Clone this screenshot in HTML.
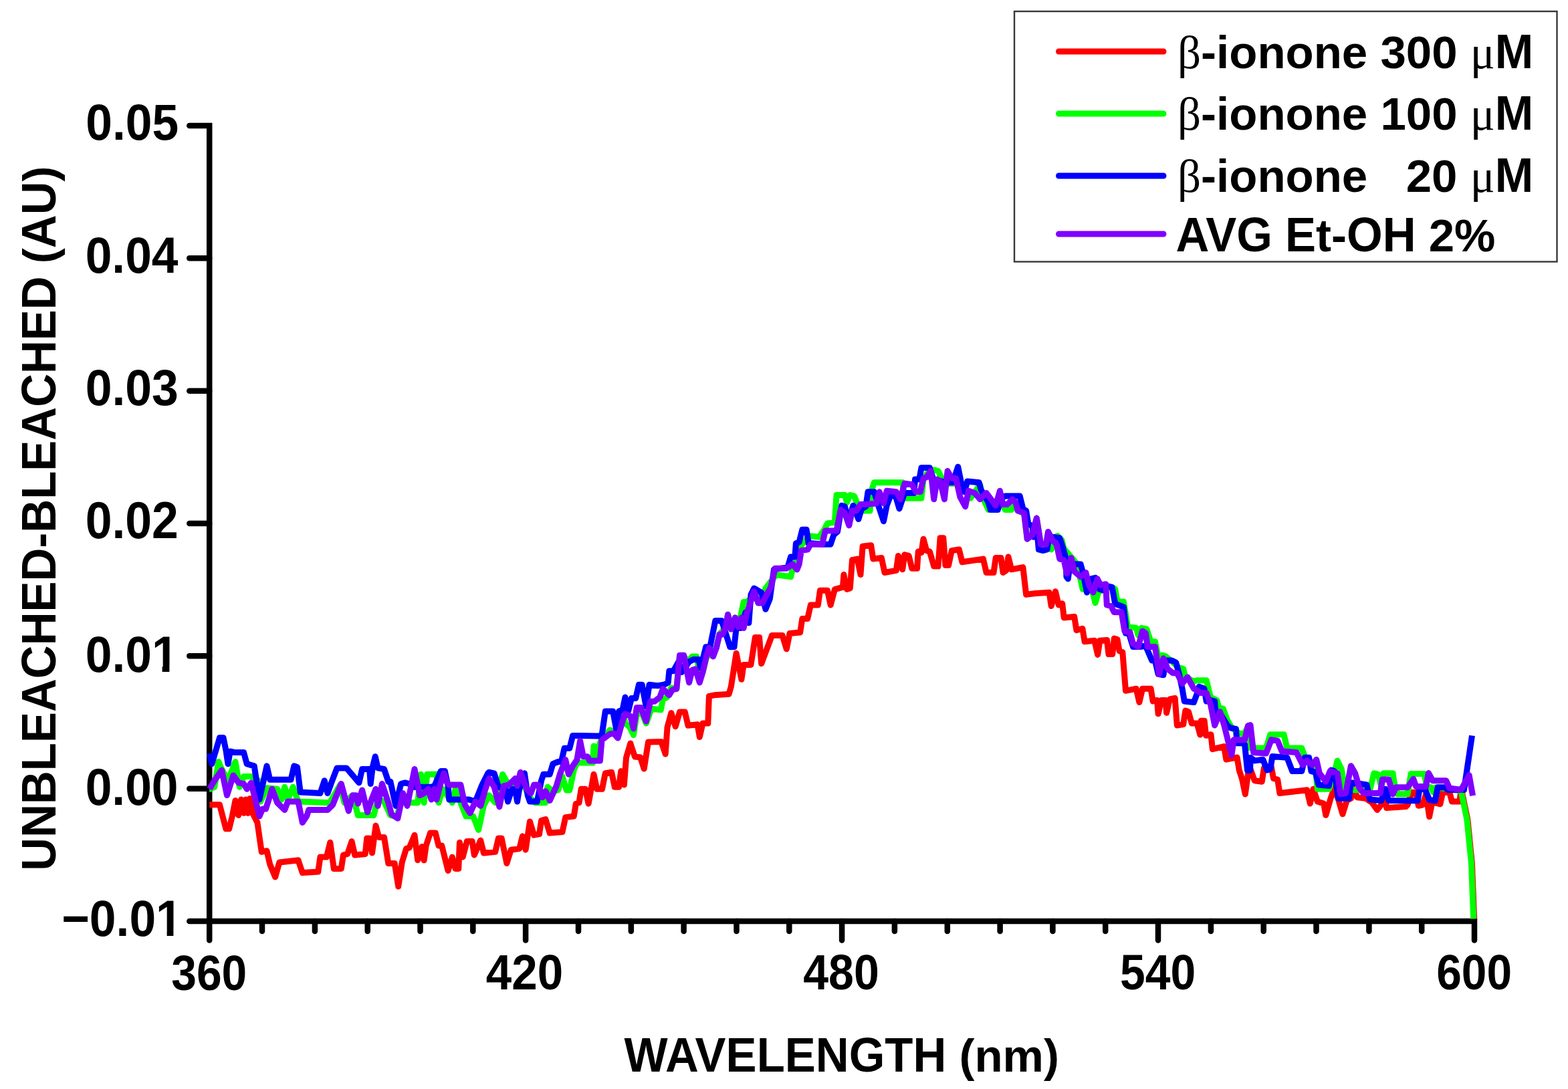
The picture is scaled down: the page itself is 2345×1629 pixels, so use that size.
<!DOCTYPE html>
<html><head><meta charset="utf-8"><title>Spectrum</title>
<style>html,body{margin:0;padding:0;background:#fff;}svg{display:block;}</style>
</head><body>
<svg width="2345" height="1629" viewBox="0 0 2345 1629">
<rect width="2345" height="1629" fill="#ffffff"/>
<g stroke="#000" stroke-width="8.5" fill="none" stroke-linecap="round" stroke-linejoin="miter">
<path d="M283.25,188.0 H313.2 V1406.5" />
<path d="M283.25,1378.0 H2205.0 V1406.5" />
<path d="M283.25,386.3 H313.2" />
<path d="M283.25,584.7 H313.2" />
<path d="M283.25,783.0 H313.2" />
<path d="M283.25,981.3 H313.2" />
<path d="M283.25,1179.7 H313.2" />
<path d="M392.0,1378.0 V1393" />
<path d="M470.9,1378.0 V1393" />
<path d="M549.7,1378.0 V1393" />
<path d="M628.5,1378.0 V1393" />
<path d="M707.3,1378.0 V1393" />
<path d="M786.1,1378.0 V1406.5" />
<path d="M865.0,1378.0 V1393" />
<path d="M943.8,1378.0 V1393" />
<path d="M1022.6,1378.0 V1393" />
<path d="M1101.5,1378.0 V1393" />
<path d="M1180.3,1378.0 V1393" />
<path d="M1259.1,1378.0 V1406.5" />
<path d="M1337.9,1378.0 V1393" />
<path d="M1416.8,1378.0 V1393" />
<path d="M1495.6,1378.0 V1393" />
<path d="M1574.4,1378.0 V1393" />
<path d="M1653.2,1378.0 V1393" />
<path d="M1732.0,1378.0 V1406.5" />
<path d="M1810.9,1378.0 V1393" />
<path d="M1889.7,1378.0 V1393" />
<path d="M1968.5,1378.0 V1393" />
<path d="M2047.4,1378.0 V1393" />
<path d="M2126.2,1378.0 V1393" />
</g>
<g fill="none" stroke-width="9" stroke-linejoin="round" stroke-linecap="butt">
<polyline stroke="#ff0000" points="313.2,1203.8 313.6,1203.8 328.5,1203.8 337.9,1239.8 342.6,1239.8 347.3,1221.0 352.0,1197.5 356.7,1219.5 360.6,1196.0 364.5,1216.3 367.7,1196.0 370.8,1216.3 373.9,1194.4 378.6,1217.9 384.9,1230.4 391.2,1274.3 399.0,1272.7 403.7,1293.1 411.6,1311.9 417.8,1290.0 446.0,1286.8 452.3,1305.6 475.8,1304.1 478.9,1282.1 488.3,1282.1 493.8,1260.2 499.3,1299.4 510.3,1299.4 513.4,1279.0 519.7,1277.4 526.0,1258.6 530.7,1279.0 546.3,1277.4 548.7,1253.9 552.6,1253.9 556.5,1275.9 562.0,1235.1 566.7,1252.4 574.5,1252.4 580.8,1291.5 590.2,1291.5 595.7,1326.0 601.2,1290.0 607.5,1269.6 612.2,1268.0 620.0,1249.2 624.7,1286.8 631.0,1266.5 634.1,1286.8 637.2,1264.9 643.5,1246.1 651.3,1246.1 656.0,1264.9 660.7,1264.9 665.4,1283.7 670.1,1302.5 676.4,1282.1 681.1,1299.4 685.8,1299.4 687.4,1260.2 692.1,1282.1 698.3,1258.6 706.2,1258.6 709.3,1279.0 718.7,1257.1 723.4,1275.9 740.7,1274.3 745.4,1253.9 750.1,1253.9 757.9,1291.5 764.2,1271.2 776.7,1269.6 781.4,1250.8 786.1,1271.2 792.4,1228.9 798.6,1249.2 806.5,1247.7 809.6,1227.3 815.9,1225.7 822.2,1246.1 841.0,1244.5 845.7,1222.6 858.2,1221.0 861.3,1202.2 866.0,1200.7 869.2,1180.3 875.4,1180.3 880.1,1202.2 888.0,1158.3 892.7,1180.3 900.5,1180.3 905.2,1156.8 914.6,1155.2 919.3,1177.2 925.6,1177.2 928.7,1153.6 933.4,1174.0 936.5,1133.3 942.8,1111.9 946.0,1122.0 949.5,1132.0 957.6,1132.7 963.2,1150.0 969.5,1110.0 988.9,1109.5 995.2,1128.0 998.0,1088.0 1003.9,1066.5 1010.2,1086.8 1016.5,1064.9 1024.3,1064.9 1029.0,1085.3 1043.1,1083.7 1046.3,1102.5 1051.0,1082.1 1058.8,1082.1 1060.4,1041.4 1068.2,1039.8 1090.1,1038.3 1093.3,1027.3 1101.1,977.2 1108.9,1016.3 1112.1,994.4 1123.0,994.4 1129.3,953.6 1135.6,953.6 1138.7,992.8 1154.4,950.6 1170.1,950.6 1176.3,970.9 1181.0,947.4 1196.7,945.9 1199.8,925.5 1207.7,925.5 1212.4,905.1 1223.3,905.1 1226.5,883.2 1237.5,883.2 1242.2,905.1 1248.4,881.6 1260.4,878.4 1261.9,859.6 1266.6,881.5 1271.3,880.0 1274.5,837.7 1282.3,836.1 1287.0,859.6 1290.1,817.3 1302.7,815.7 1305.8,836.1 1318.3,834.5 1323.0,856.5 1340.3,853.3 1343.4,831.4 1349.7,851.8 1352.8,829.8 1359.1,831.4 1363.8,850.2 1371.6,850.2 1373.2,825.1 1377.9,826.7 1381.0,806.3 1385.7,823.6 1390.4,825.1 1396.7,847.1 1403.0,847.1 1406.1,804.8 1410.8,804.8 1413.9,845.5 1418.6,845.5 1423.3,823.6 1434.3,822.0 1439.0,840.8 1470.4,836.1 1475.1,856.5 1486.0,856.5 1489.2,834.5 1497.0,834.5 1500.1,856.5 1504.8,853.3 1508.0,833.0 1512.7,851.8 1529.9,848.6 1534.6,889.4 1547.2,887.8 1569.1,886.2 1572.2,906.6 1578.5,884.7 1583.2,905.0 1588.7,902.8 1591.2,924.0 1606.7,922.4 1609.9,942.7 1618.9,940.3 1622.1,959.8 1636.8,958.2 1641.7,979.4 1644.9,958.2 1655.5,957.4 1658.0,978.6 1663.7,978.6 1666.3,955.0 1671.0,956.6 1674.1,973.8 1678.8,975.4 1683.5,1033.3 1699.2,1030.2 1703.9,1050.6 1708.6,1030.2 1721.1,1030.2 1724.2,1049.0 1730.5,1047.4 1732.1,1067.8 1736.8,1047.4 1743.0,1047.4 1744.6,1066.2 1749.3,1045.9 1757.2,1044.3 1760.3,1085.0 1769.7,1083.5 1772.8,1063.1 1777.5,1064.7 1782.2,1081.9 1790.1,1081.9 1794.8,1099.1 1796.3,1078.3 1801.2,1078.3 1803.6,1100.3 1811.0,1098.7 1813.4,1120.7 1830.5,1116.6 1833.8,1136.1 1850.1,1132.9 1853.3,1152.4 1857.5,1165.0 1862.3,1188.0 1867.0,1154.0 1870.0,1150.4 1876.3,1167.7 1887.2,1169.2 1890.4,1148.9 1901.3,1147.3 1904.5,1164.5 1910.7,1166.1 1913.9,1186.5 1954.6,1181.8 1959.3,1202.1 1964.0,1180.2 1970.3,1199.0 1979.7,1202.1 1982.8,1219.4 1989.1,1197.4 1995.4,1178.6 2001.6,1195.9 2007.9,1217.8 2014.2,1197.4 2020.4,1194.3 2025.1,1180.2 2029.8,1192.7 2042.4,1194.3 2051.8,1200.6 2059.6,1211.5 2065.9,1203.7 2070.6,1184.9 2073.7,1208.4 2102.6,1206.5 2105.1,1204.0 2111.3,1185.2 2117.6,1185.2 2121.4,1205.3 2127.6,1204.0 2132.6,1187.7 2137.6,1221.6 2141.4,1202.8 2145.2,1200.3 2153.9,1202.8 2157.7,1185.2 2167.7,1185.2 2171.5,1199.0 2182.8,1199.0 2185.0,1182.7 2186.1,1183.7 2194.8,1225.3 2201.4,1291.1 2204.7,1374.4"/>
<polyline stroke="#00ff00" points="313.2,1180.3 314.4,1180.3 320.7,1177.2 326.9,1139.5 331.6,1150.5 341.0,1167.7 352.0,1139.5 358.3,1177.2 364.5,1161.5 375.5,1161.5 386.5,1167.7 389.6,1199.1 399.0,1178.7 414.7,1180.3 421.0,1196.0 425.7,1177.2 430.4,1196.0 438.2,1177.2 446.0,1199.1 493.0,1200.7 508.7,1174.0 515.0,1200.7 527.5,1189.7 535.4,1219.5 558.9,1219.5 565.1,1196.0 574.5,1199.1 583.9,1219.5 593.3,1221.0 602.7,1192.8 615.3,1200.7 624.7,1200.7 629.4,1158.3 634.1,1200.7 638.8,1158.3 652.9,1158.3 656.0,1200.7 662.3,1180.3 676.4,1200.7 681.1,1180.3 688.9,1200.7 696.8,1221.0 707.7,1221.0 715.6,1241.4 723.4,1205.4 731.3,1189.7 740.7,1200.7 751.6,1158.3 759.5,1172.5 765.7,1174.0 776.7,1174.0 784.5,1177.2 792.4,1192.8 800.2,1200.7 815.9,1200.7 819.0,1177.2 826.9,1183.4 834.7,1181.9 841.0,1161.5 847.2,1181.9 851.9,1181.9 858.2,1152.1 862.9,1141.1 886.4,1141.1 888.0,1116.0 891.1,1130.1 900.0,1104.0 906.0,1100.0 912.0,1092.0 918.0,1094.0 925.0,1100.0 932.0,1068.0 935.0,1082.1 941.3,1086.8 947.5,1099.4 952.2,1068.0 960.1,1066.5 966.3,1082.1 974.2,1060.2 988.3,1061.8 991.4,1046.1 997.7,1043.0 1003.9,1028.9 1011.8,1030.4 1016.5,981.9 1022.7,981.9 1029.0,989.7 1035.3,981.9 1041.6,981.9 1046.3,1005.4 1051.0,1005.4 1057.2,980.3 1065.1,980.3 1071.3,969.3 1076.0,948.9 1085.4,938.0 1088.6,919.2 1093.3,941.1 1099.5,923.9 1104.2,938.0 1112.1,900.4 1116.8,900.4 1123.0,895.7 1127.7,884.7 1134.0,901.9 1140.3,895.7 1145.0,880.0 1160.7,859.7 1182.6,862.8 1185.7,850.3 1192.0,836.2 1196.7,817.4 1210.8,801.7 1224.9,803.3 1232.7,792.3 1237.5,782.9 1248.4,781.3 1251.0,740.5 1263.5,740.5 1266.6,751.5 1271.3,740.5 1277.6,742.1 1283.9,757.7 1288.6,764.0 1301.1,764.0 1302.7,735.8 1307.4,721.7 1349.7,721.7 1352.8,745.2 1377.9,745.2 1381.0,717.0 1385.7,709.2 1396.7,702.9 1403.0,704.5 1409.2,717.0 1418.6,723.3 1429.6,723.3 1437.4,723.3 1451.5,745.2 1465.7,724.8 1468.8,742.1 1478.2,762.5 1489.2,760.9 1497.0,751.5 1503.3,762.5 1512.7,762.5 1518.9,751.5 1522.1,764.0 1531.5,767.2 1536.2,806.3 1544.0,800.1 1550.3,775.0 1556.6,814.2 1564.4,814.2 1572.2,822.0 1575.4,804.8 1581.6,801.6 1587.9,807.9 1591.0,820.4 1609.8,842.4 1616.1,867.4 1619.2,881.5 1630.2,870.6 1638.0,901.9 1642.7,886.2 1653.7,878.4 1663.1,878.4 1667.8,881.3 1671.0,900.1 1680.4,900.1 1686.6,937.7 1699.2,939.3 1702.3,950.3 1707.0,939.3 1714.8,940.9 1721.1,959.7 1727.4,959.7 1732.1,981.6 1738.3,980.1 1743.0,981.6 1750.9,987.9 1763.4,998.9 1769.7,1000.4 1772.8,1013.0 1779.1,1016.1 1785.4,1019.2 1790.1,1017.7 1804.2,1017.7 1810.4,1042.7 1819.8,1047.4 1823.0,1058.4 1829.2,1060.0 1835.5,1077.2 1841.9,1088.1 1853.3,1097.0 1860.7,1097.8 1865.5,1088.9 1869.6,1085.6 1870.0,1119.1 1876.3,1119.1 1893.5,1119.1 1899.8,1098.7 1920.1,1098.7 1924.8,1119.1 1946.8,1119.1 1951.5,1131.6 1967.2,1148.9 1970.3,1180.2 1987.5,1180.2 1995.4,1156.7 2000.1,1137.9 2006.3,1150.4 2011.0,1180.2 2026.7,1181.8 2036.1,1181.8 2048.6,1181.8 2054.9,1156.7 2061.2,1158.3 2065.9,1177.1 2069.0,1156.7 2083.1,1156.7 2085.0,1170.2 2090.0,1187.7 2105.1,1187.7 2110.1,1157.6 2130.1,1157.6 2133.9,1177.7 2140.2,1177.7 2143.9,1185.2 2147.7,1177.7 2167.7,1180.2 2184.0,1182.7 2185.1,1183.7 2193.8,1225.3 2200.4,1291.1 2203.7,1374.4"/>
<polyline stroke="#0000ff" points="313.2,1127.0 316.8,1142.7 328.5,1103.5 334.0,1103.5 337.9,1122.3 341.0,1142.7 344.2,1123.9 350.4,1125.4 364.5,1125.4 369.2,1142.7 380.2,1145.8 388.0,1196.0 399.0,1145.8 403.7,1166.2 435.1,1166.2 439.8,1145.8 444.5,1147.4 449.2,1185.0 478.9,1186.6 485.2,1167.7 489.9,1186.6 496.2,1169.3 504.0,1148.9 518.1,1148.9 536.9,1170.9 541.6,1150.5 552.6,1150.5 554.2,1172.5 557.3,1147.4 561.2,1131.7 565.1,1148.9 574.5,1150.5 580.8,1169.3 583.9,1169.3 591.8,1205.4 599.6,1172.5 605.9,1170.9 612.2,1172.5 616.9,1177.2 624.7,1177.2 632.5,1177.2 645.1,1177.2 649.8,1175.6 659.2,1153.6 665.4,1153.6 670.1,1175.6 671.7,1196.0 687.4,1196.0 695.2,1196.0 701.5,1196.0 710.9,1199.1 720.3,1175.6 729.7,1156.8 731.3,1155.2 739.1,1156.8 745.4,1177.2 756.3,1180.3 759.5,1199.1 765.7,1180.3 770.4,1180.3 773.6,1199.1 776.7,1180.3 784.5,1156.8 789.2,1189.7 792.4,1199.1 803.3,1199.1 809.6,1167.7 812.7,1158.3 822.2,1158.3 826.9,1142.7 834.7,1139.5 839.4,1139.5 844.1,1119.2 851.9,1119.2 856.6,1100.4 866.0,1100.4 895.0,1101.0 900.0,1100.0 905.3,1064.0 916.6,1064.0 921.9,1092.0 925.6,1064.0 931.0,1062.0 935.0,1043.0 939.7,1063.3 944.4,1044.5 950.7,1044.5 955.4,1024.2 960.1,1024.2 966.3,1057.1 971.0,1024.2 983.6,1025.7 993.0,1024.2 999.2,1021.0 1000.8,1003.8 1007.1,1003.8 1014.9,989.7 1019.6,1005.4 1024.3,999.1 1030.6,989.7 1036.9,986.6 1044.7,986.6 1047.8,999.1 1055.7,967.7 1061.9,967.7 1069.8,928.6 1079.2,928.6 1083.9,942.7 1091.7,967.7 1098.0,967.7 1101.1,939.5 1107.4,939.5 1115.2,916.0 1119.9,931.7 1123.0,889.4 1127.7,880.0 1138.7,886.3 1145.0,911.3 1151.3,895.7 1157.5,851.9 1177.9,848.7 1182.6,833.0 1188.9,833.0 1190.4,812.7 1195.1,811.1 1199.8,792.3 1206.1,792.3 1209.2,812.7 1213.9,812.7 1229.6,814.2 1242.2,814.2 1246.9,800.1 1252.5,795.4 1258.8,756.2 1263.5,757.7 1268.2,779.7 1276.0,756.2 1283.9,776.6 1288.6,760.9 1294.8,757.7 1298.0,735.8 1307.4,735.8 1313.6,756.2 1321.5,779.7 1326.2,756.2 1334.0,735.8 1340.3,745.2 1345.0,760.9 1352.8,737.4 1366.9,737.4 1368.5,717.0 1374.8,717.0 1377.9,699.8 1390.4,699.8 1396.7,720.1 1403.0,718.6 1409.2,720.1 1417.1,721.7 1424.9,721.7 1432.7,698.2 1437.4,721.7 1442.1,735.8 1446.8,720.1 1464.1,721.7 1467.2,732.7 1478.2,751.5 1481.3,762.5 1492.3,762.5 1497.0,745.2 1503.3,742.1 1525.2,742.1 1529.9,760.9 1534.6,764.0 1537.7,782.8 1544.0,787.5 1545.6,803.2 1550.3,786.0 1553.4,822.0 1559.7,823.6 1566.0,822.0 1569.1,801.6 1573.8,803.2 1584.8,804.8 1589.5,818.9 1594.2,836.1 1594.9,862.7 1597.3,865.9 1600.4,842.4 1609.8,843.9 1616.1,843.9 1619.2,854.9 1625.5,886.2 1631.8,865.9 1638.0,864.3 1644.3,881.5 1650.6,883.1 1656.8,876.8 1663.1,878.4 1667.8,903.3 1680.4,908.0 1683.5,934.6 1683.5,947.2 1688.2,947.2 1694.5,967.5 1705.4,967.5 1713.3,966.0 1722.7,987.9 1727.4,987.9 1732.1,1008.3 1739.9,1009.8 1743.0,987.9 1752.5,987.9 1758.7,991.0 1763.4,1008.3 1768.1,1030.2 1771.3,1049.0 1785.4,1050.6 1790.1,1038.0 1793.2,1027.1 1801.0,1030.2 1804.2,1049.0 1810.4,1047.4 1816.7,1049.0 1818.3,1074.1 1826.1,1069.4 1835.5,1085.0 1840.3,1088.9 1848.4,1090.5 1850.1,1111.7 1858.2,1111.7 1861.5,1113.3 1865.5,1152.4 1869.6,1152.4 1870.0,1133.2 1876.3,1137.9 1888.8,1136.3 1895.1,1152.0 1899.8,1150.4 1902.9,1131.6 1924.8,1133.2 1932.7,1153.6 1946.8,1153.6 1951.5,1133.2 1957.7,1133.2 1960.9,1153.6 1967.2,1155.1 1971.9,1173.9 1987.5,1175.5 1990.7,1152.0 1995.4,1153.6 2001.6,1194.3 2017.3,1194.3 2020.4,1170.8 2034.5,1172.4 2043.9,1173.9 2048.6,1195.9 2065.9,1197.4 2072.1,1180.2 2076.8,1197.4 2120.1,1197.7 2122.6,1182.7 2130.1,1177.7 2137.6,1196.5 2146.4,1197.7 2150.2,1177.7 2160.2,1177.7 2165.2,1181.5 2189.5,1181.5 2201.5,1100.4"/>
<polyline stroke="#8000ff" points="313.2,1180.3 320.7,1167.7 331.6,1152.1 339.5,1189.7 348.9,1159.9 356.7,1170.9 364.5,1172.5 369.2,1180.3 375.5,1170.9 388.0,1221.0 392.7,1210.1 397.5,1210.1 406.9,1180.3 414.7,1200.7 425.7,1211.6 430.4,1199.1 446.0,1199.1 452.3,1230.4 458.6,1221.0 461.7,1211.6 489.9,1211.6 497.7,1203.8 510.3,1172.5 521.3,1213.2 527.5,1189.7 532.2,1189.7 535.4,1202.2 541.6,1181.9 549.5,1214.8 555.7,1196.0 562.0,1180.3 565.1,1205.4 571.4,1172.5 580.8,1200.7 585.5,1217.9 594.9,1224.2 602.7,1186.6 609.0,1205.4 620.0,1150.5 627.8,1189.7 634.1,1186.6 640.4,1180.3 645.1,1196.0 649.8,1180.3 652.9,1196.0 659.2,1170.9 663.9,1156.8 668.6,1170.9 671.7,1174.0 688.9,1174.0 695.2,1203.8 703.0,1216.3 710.9,1199.1 718.7,1205.4 725.0,1183.4 731.3,1164.6 739.1,1177.2 746.9,1206.9 753.2,1175.6 761.0,1174.0 770.4,1164.6 773.6,1175.6 778.3,1155.2 787.7,1180.3 793.9,1186.6 798.6,1174.0 804.9,1174.0 811.2,1192.8 815.9,1183.4 822.2,1197.5 831.6,1177.2 837.8,1156.8 845.7,1136.4 850.4,1158.3 856.6,1145.8 862.9,1136.4 867.6,1108.2 872.3,1131.7 878.6,1131.7 881.7,1138.0 897.4,1138.0 900.0,1107.0 912.0,1098.0 918.0,1097.0 924.0,1104.0 932.0,1075.0 935.0,1068.0 942.8,1071.2 947.5,1090.0 952.2,1058.6 958.5,1058.6 966.3,1079.0 972.6,1049.2 978.9,1049.2 986.7,1043.0 991.4,1030.4 1000.8,1039.8 1005.5,1032.0 1011.8,1030.4 1016.5,980.3 1022.7,980.3 1030.6,1021.0 1035.3,1002.2 1040.0,1000.7 1046.3,1021.0 1051.0,1005.4 1057.2,978.7 1060.4,969.3 1066.6,981.9 1071.3,969.3 1076.0,948.9 1080.7,948.9 1085.4,938.0 1088.6,919.2 1093.3,941.1 1099.5,923.9 1104.2,938.0 1108.9,923.9 1112.1,939.5 1116.8,917.6 1123.0,898.8 1127.7,884.7 1134.0,901.9 1140.3,901.9 1146.5,889.4 1152.8,878.5 1159.1,850.3 1176.3,850.3 1185.7,844.0 1192.0,851.9 1195.1,844.0 1198.3,823.6 1207.7,822.1 1212.4,814.2 1229.6,814.2 1234.3,793.9 1251.0,793.8 1257.2,762.5 1263.5,767.2 1269.8,786.0 1274.5,764.0 1280.7,764.0 1287.0,754.6 1294.8,754.6 1310.5,753.0 1315.2,735.8 1321.5,753.0 1326.2,734.2 1340.3,735.8 1346.6,746.8 1352.8,723.3 1363.8,724.8 1370.1,735.8 1376.3,735.8 1381.0,715.4 1385.7,713.9 1392.0,704.5 1396.7,746.8 1401.4,717.0 1406.1,720.1 1412.4,746.8 1417.1,704.5 1423.3,715.4 1429.6,715.4 1435.9,743.6 1443.7,757.7 1448.4,734.2 1457.8,737.4 1465.7,746.8 1475.1,737.4 1489.2,756.2 1495.4,734.2 1500.1,754.6 1506.4,754.6 1514.2,746.8 1518.9,751.5 1522.1,764.0 1531.5,767.2 1536.2,806.3 1544.0,800.1 1550.3,775.0 1556.6,814.2 1564.4,814.2 1567.5,795.4 1573.8,807.9 1580.1,814.2 1584.8,836.1 1591.0,837.7 1595.7,858.0 1602.0,834.5 1606.7,854.9 1616.1,862.7 1623.9,856.5 1628.6,875.3 1634.9,886.2 1641.2,865.9 1645.9,875.3 1653.7,873.7 1655.3,905.0 1661.5,906.6 1666.3,915.8 1672.5,915.8 1677.2,915.8 1681.9,944.0 1689.8,945.6 1694.5,962.8 1702.3,967.5 1708.6,944.0 1713.3,947.2 1716.4,967.5 1727.4,967.5 1733.6,1008.3 1739.9,984.8 1746.2,1000.4 1754.0,1006.7 1760.3,1006.7 1768.1,1022.4 1776.0,1013.0 1785.4,1030.2 1796.3,1036.5 1804.2,1036.5 1810.4,1053.7 1816.7,1085.0 1824.5,1064.7 1830.8,1085.0 1841.9,1129.6 1845.2,1106.8 1861.5,1106.8 1866.4,1085.6 1870.0,1084.6 1874.7,1125.4 1893.5,1126.9 1901.3,1106.6 1910.7,1108.1 1917.0,1123.8 1938.9,1125.4 1948.3,1144.2 1954.6,1137.9 1962.5,1144.2 1968.7,1136.3 1973.4,1156.7 1982.8,1169.2 1989.1,1153.6 2000.1,1156.7 2004.8,1188.0 2012.6,1186.5 2020.4,1145.7 2026.7,1156.7 2033.0,1178.6 2039.2,1186.5 2064.3,1186.5 2067.4,1166.1 2076.8,1166.1 2083.1,1188.0 2087.5,1177.7 2105.1,1177.7 2113.8,1165.2 2117.6,1176.4 2132.6,1176.4 2136.4,1156.4 2142.7,1167.7 2162.7,1167.7 2167.7,1178.9 2185.1,1181.5 2197.1,1159.6 2202.6,1190.3"/>
</g>
<g font-family="'Liberation Sans', Arial, Helvetica, sans-serif" font-weight="bold" font-size="69" fill="#000">
<g transform="matrix(1.03488,0,0,1.09574,-10.08,-18.91)"><text x="268" y="208.0" text-anchor="end">0.05</text></g>
<g transform="matrix(1.03385,0,0,1.10213,-10.54,-39.96)"><text x="268" y="406.3" text-anchor="end">0.04</text></g>
<g transform="matrix(1.03672,0,0,1.11064,-10.93,-65.44)"><text x="268" y="604.7" text-anchor="end">0.03</text></g>
<g transform="matrix(1.03672,0,0,1.11915,-10.93,-93.18)"><text x="268" y="803.0" text-anchor="end">0.02</text></g>
<defs><clipPath id="c1a"><rect x="0" y="0" width="2345" height="996.5"/><rect x="0" y="0" width="226" height="1629"/><rect x="242.6" y="900" width="10.8" height="200"/></clipPath></defs><g clip-path="url(#c1a)"><g transform="matrix(1.03500,0,0,1.10426,-10.69,-100.96)"><text x="268" y="1001.3" text-anchor="end">0.01</text></g></g>
<g transform="matrix(1.03359,0,0,1.12766,-10.50,-149.09)"><text x="268" y="1199.7" text-anchor="end">0.00</text></g>
<defs><clipPath id="c1b"><rect x="0" y="0" width="2345" height="1391.5"/><rect x="0" y="0" width="233" height="1629"/><rect x="249.6" y="1300" width="9.8" height="200"/></clipPath></defs><g clip-path="url(#c1b)"><g transform="matrix(1.03500,0,0,1.09149,-4.56,-125.40)"><text x="268" y="1398.0" text-anchor="end">−0.01</text></g></g>
<g transform="matrix(0.98108,0,0,1.07021,5.46,-103.11)"><text x="313.2" y="1480" text-anchor="middle">360</text></g>
<g transform="matrix(1.00180,0,0,1.06170,-3.02,-91.02)"><text x="786.1" y="1480" text-anchor="middle">420</text></g>
<g transform="matrix(0.98739,0,0,1.06170,14.77,-91.02)"><text x="1259.1" y="1480" text-anchor="middle">480</text></g>
<g transform="matrix(0.98273,0,0,1.06170,29.47,-91.02)"><text x="1732.0" y="1480" text-anchor="middle">540</text></g>
<g transform="matrix(0.98000,0,0,1.07021,43.70,-103.61)"><text x="2205.0" y="1480" text-anchor="middle">600</text></g>
<text x="933.57" y="1603.00" font-family="'Liberation Sans', Arial, Helvetica, sans-serif" font-weight="bold" font-size="69"><tspan font-size="71.81" textLength="481.72" lengthAdjust="spacingAndGlyphs">WAVELENGTH</tspan> (nm)</text>
<g transform="translate(83.4,775.6) rotate(-90)"><text x="-527.05" y="0.00" font-family="'Liberation Sans', Arial, Helvetica, sans-serif" font-weight="bold" font-size="69"><tspan font-size="71.81" textLength="483.00" lengthAdjust="spacingAndGlyphs">UNBLEACHED</tspan>-<tspan font-size="71.81" textLength="383.34" lengthAdjust="spacingAndGlyphs">BLEACHED</tspan> (<tspan font-size="71.81" textLength="99.67" lengthAdjust="spacingAndGlyphs">AU</tspan>)</text></g>
</g>
<rect x="1517" y="17" width="811.5" height="374.5" fill="none" stroke="#383838" stroke-width="2.4"/>
<line x1="1583.5" y1="77" x2="1740" y2="77" stroke="#ff0000" stroke-width="9" stroke-linecap="round"/>
<text x="1761.00" y="101.70" font-family="'Liberation Sans', Arial, Helvetica, sans-serif" font-weight="bold" font-size="69"><tspan font-family="'Liberation Serif', 'Times New Roman', serif" font-weight="normal">β</tspan>-ionone 300 <tspan font-family="'Liberation Serif', 'Times New Roman', serif" font-weight="normal">μ</tspan><tspan font-size="71.35" textLength="57.48" lengthAdjust="spacingAndGlyphs">M</tspan></text>
<line x1="1583.5" y1="170" x2="1740" y2="170" stroke="#00ff00" stroke-width="9" stroke-linecap="round"/>
<text x="1761.00" y="194.30" font-family="'Liberation Sans', Arial, Helvetica, sans-serif" font-weight="bold" font-size="69"><tspan font-family="'Liberation Serif', 'Times New Roman', serif" font-weight="normal">β</tspan>-ionone 100 <tspan font-family="'Liberation Serif', 'Times New Roman', serif" font-weight="normal">μ</tspan><tspan font-size="71.35" textLength="57.48" lengthAdjust="spacingAndGlyphs">M</tspan></text>
<line x1="1583.5" y1="263" x2="1740" y2="263" stroke="#0000ff" stroke-width="9" stroke-linecap="round"/>
<text x="1761.00" y="287.00" font-family="'Liberation Sans', Arial, Helvetica, sans-serif" font-weight="bold" font-size="69"><tspan font-family="'Liberation Serif', 'Times New Roman', serif" font-weight="normal">β</tspan>-ionone   20 <tspan font-family="'Liberation Serif', 'Times New Roman', serif" font-weight="normal">μ</tspan><tspan font-size="71.35" textLength="57.48" lengthAdjust="spacingAndGlyphs">M</tspan></text>
<line x1="1583.5" y1="350" x2="1740" y2="350" stroke="#8000ff" stroke-width="9" stroke-linecap="round"/>
<text x="1758.50" y="375.50" font-family="'Liberation Sans', Arial, Helvetica, sans-serif" font-weight="bold" font-size="69"><tspan font-size="71.35" textLength="209.59" lengthAdjust="spacingAndGlyphs">AVG E</tspan>t-<tspan font-size="71.35" textLength="103.50" lengthAdjust="spacingAndGlyphs">OH</tspan> 2%</text>
</svg>
</body></html>
